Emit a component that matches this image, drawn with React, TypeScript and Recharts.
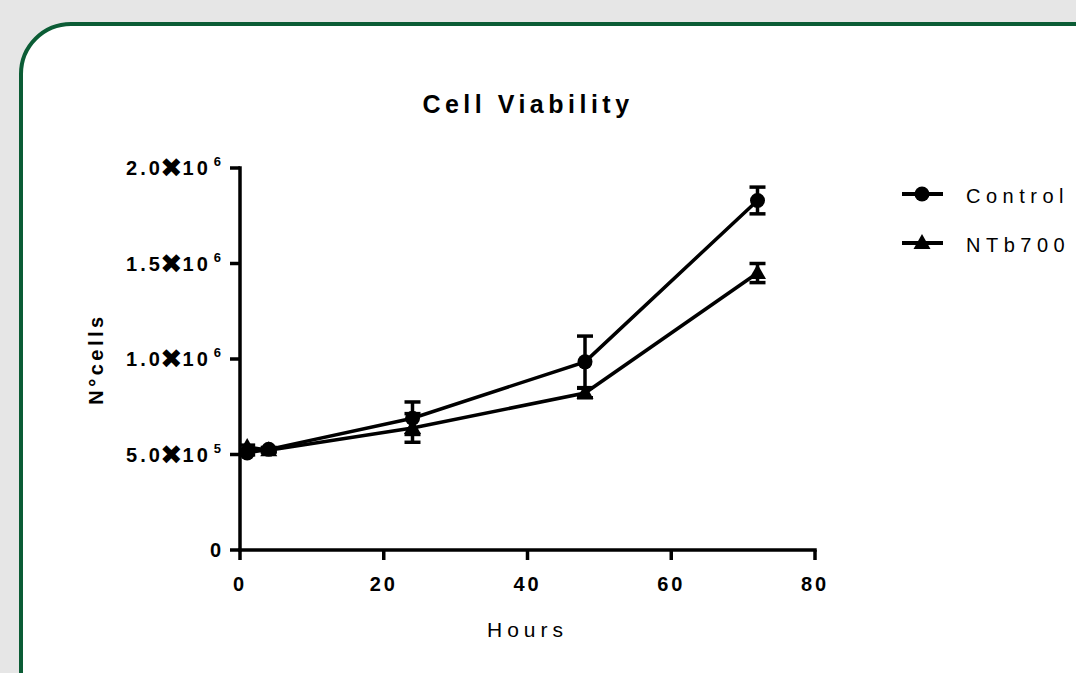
import React from 'react';
import { LineChart, Line, XAxis, YAxis, ErrorBar, Legend, Label } from 'recharts';

const hours = [1, 4, 24, 48, 72];
const controlMean = [508000, 527000, 690000, 985000, 1830000];
const controlSem = [10000, 10000, 85000, 135000, 70000];
const ntbMean = [539000, 522000, 639000, 822000, 1450000];
const ntbSem = [10000, 10000, 75000, 25000, 50000];
const seriesNames = ['Control', 'NTb700'];
const xTicks = [0, 20, 40, 60, 80];
const yTicks = [0, 500000, 1000000, 1500000, 2000000];
const chartTitle = 'Cell Viability';
const xTitle = 'Hours';
const yTitle = 'N°cells';

const data = hours.map((h, i) => ({
  hours: h,
  control: controlMean[i],
  controlErr: controlSem[i],
  ntb: ntbMean[i],
  ntbErr: ntbSem[i],
}));

const FONT = '"Liberation Sans", Arial, Helvetica, sans-serif';

const YTick = (props: any) => {
  const { x, y, payload } = props;
  const v = payload.value as number;
  const common = {
    x,
    y,
    textAnchor: 'end' as const,
    fontFamily: FONT,
    fontWeight: 'bold' as const,
    fontSize: 20,
    fill: '#000',
    letterSpacing: 3,
  };
  if (v === 0) {
    return <text {...common} dy={7}>0</text>;
  }
  const exp = Math.floor(Math.log10(v));
  const mant = (v / Math.pow(10, exp)).toFixed(1);
  return (
    <text {...common} y={y + 7}>
      {mant}
      <tspan fontFamily='"DejaVu Sans", sans-serif' fontSize={27} letterSpacing={0} dx={-3} dy={2}>✖</tspan>
      <tspan dy={-2}>10</tspan>
      <tspan dx={3} dy={-9} fontSize={13}>{exp}</tspan>
    </text>
  );
};

const CircleDot = (props: any) => {
  const { cx, cy, index } = props;
  if (cx == null || cy == null) return null;
  return <circle key={`c${index}`} cx={cx} cy={cy} r={7.5} fill="#000" />;
};

const TriangleDot = (props: any) => {
  const { cx, cy, index } = props;
  if (cx == null || cy == null) return null;
  return (
    <path
      key={`t${index}`}
      d={`M${cx},${cy - 9}L${cx + 8.5},${cy + 6}L${cx - 8.5},${cy + 6}Z`}
      fill="#000"
    />
  );
};

const renderLegend = (props: any) => {
  const payload = props.payload || [];
  return (
    <svg width={181} height={90} style={{ display: 'block' }}>
      {payload.map((entry: any, i: number) => {
        const cy = 16 + i * 49;
        return (
          <g key={`lg${i}`}>
            <line x1={7} x2={48} y1={cy} y2={cy} stroke="#000" strokeWidth={4} />
            {i === 0 ? (
              <circle cx={27} cy={cy} r={7.5} fill="#000" />
            ) : (
              <path d={`M27,${cy - 9}L35.5,${cy + 6}L18.5,${cy + 6}Z`} fill="#000" />
            )}
            <text
              x={71}
              y={cy + 9}
              fontFamily={FONT}
              fontSize={20}
              letterSpacing={5.5}
              fill="#000"
            >
              {entry.value}
            </text>
          </g>
        );
      })}
    </svg>
  );
};

const YLabel = (props: any) => {
  const vb = props.viewBox || {};
  const x = vb.x + vb.width - 144;
  const y = vb.y + vb.height / 2;
  return (
    <text
      x={x}
      y={y}
      transform={`rotate(-90, ${x}, ${y})`}
      textAnchor="middle"
      dominantBaseline="central"
      fontFamily={FONT}
      fontWeight="bold"
      fontSize={20}
      letterSpacing={3.5}
      fill="#000"
    >
      {yTitle}
    </text>
  );
};

const XLabel = (props: any) => {
  const vb = props.viewBox || {};
  const x = vb.x + vb.width / 2;
  const y = vb.y + 87;
  return (
    <text
      x={x}
      y={y}
      textAnchor="middle"
      fontFamily={FONT}
      fontSize={21}
      letterSpacing={5}
      fill="#000"
    >
      {xTitle}
    </text>
  );
};

export default function App() {
  return (
    <div
      style={{
        position: 'absolute',
        left: 0,
        top: 0,
        width: 1076,
        height: 673,
        overflow: 'hidden',
        background: '#e6e6e6',
      }}
    >
      <div
        style={{
          position: 'absolute',
          left: 19,
          top: 22,
          width: 1120,
          height: 720,
          border: '4px solid #0b5c35',
          borderRadius: 52,
          background: '#fff',
          boxSizing: 'border-box',
        }}
      />
      <div
        style={{
          position: 'absolute',
          left: 0,
          top: 90,
          width: 1056,
          textAlign: 'center',
          fontFamily: FONT,
          fontWeight: 'bold',
          fontSize: 25,
          letterSpacing: 4.5,
          color: '#000',
          paddingLeft: 0,
        }}
      >
        {chartTitle}
      </div>
      <div style={{ position: 'absolute', left: 0, top: 0 }}>
        <LineChart
          width={1076}
          height={673}
          data={data}
          margin={{ top: 168, right: 261, bottom: 63, left: 100 }}
        >
          <XAxis
            dataKey="hours"
            type="number"
            domain={[0, 80]}
            ticks={xTicks}
            height={60}
            tickSize={10}
            tickMargin={17}
            axisLine={{ stroke: '#000', strokeWidth: 3.5, strokeLinecap: 'square' }}
            tickLine={{ stroke: '#000', strokeWidth: 3.5 }}
            tick={{
              fontFamily: FONT,
              fontWeight: 'bold',
              fontSize: 20,
              fill: '#000',
              letterSpacing: 3,
            }}
          >
            <Label content={<XLabel />} />
          </XAxis>
          <YAxis
            type="number"
            domain={[0, 2000000]}
            ticks={yTicks}
            width={140}
            tickSize={10}
            tickMargin={6}
            interval={0}
            axisLine={{ stroke: '#000', strokeWidth: 3.5, strokeLinecap: 'square' }}
            tickLine={{ stroke: '#000', strokeWidth: 3.5 }}
            tick={<YTick />}
          >
            <Label content={<YLabel />} />
          </YAxis>
          <Legend
            layout="horizontal"
            verticalAlign="middle"
            align="center"
            wrapperStyle={{ position: 'absolute', left: 895, top: 178, width: 181 }}
            content={renderLegend}
          />
          <Line
            name={seriesNames[1]}
            dataKey="ntb"
            type="linear"
            stroke="#000"
            strokeWidth={3.5}
            dot={<TriangleDot />}
            activeDot={false}
            isAnimationActive={false}
          >
            <ErrorBar dataKey="ntbErr" direction="y" width={8} stroke="#000" strokeWidth={3.5} />
          </Line>
          <Line
            name={seriesNames[0]}
            dataKey="control"
            type="linear"
            stroke="#000"
            strokeWidth={3.5}
            dot={<CircleDot />}
            activeDot={false}
            isAnimationActive={false}
          >
            <ErrorBar dataKey="controlErr" direction="y" width={8} stroke="#000" strokeWidth={3.5} />
          </Line>
        </LineChart>
      </div>
    </div>
  );
}
